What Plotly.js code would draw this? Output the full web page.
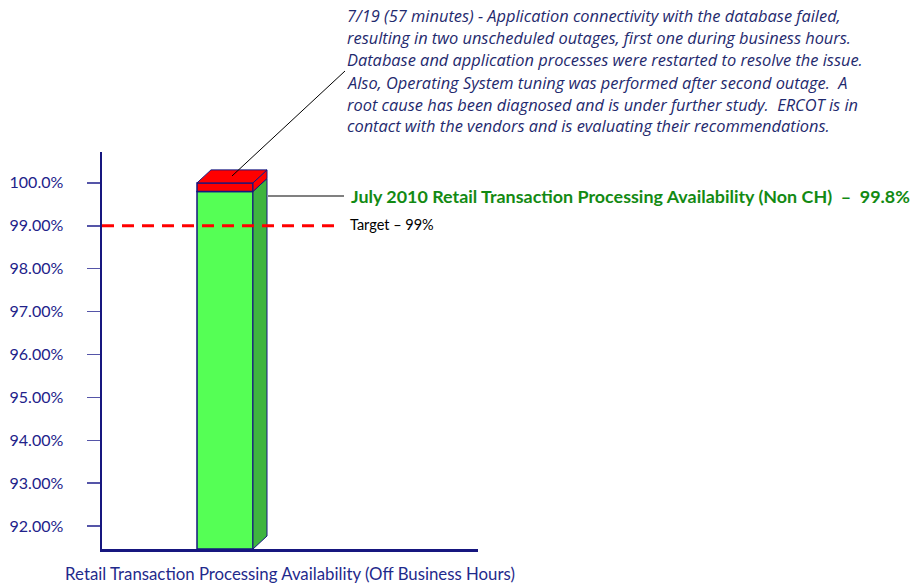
<!DOCTYPE html>
<html>
<head>
<meta charset="utf-8">
<script src="https://cdn.plot.ly/plotly-3.0.1.min.js"></script>
<style>html,body{margin:0;padding:0;background:#fff;}#chart{width:914px;height:584px;}</style>
</head>
<body>
<div id="chart"></div>
<script>
// ---- data ----
var categories = ["July 2010"];
var availability = [99.8];          // processing availability (%)
var outage = [0.2];                 // unavailable portion (%)
var target = [99];                  // target (%)
var tickValues = [92, 93, 94, 95, 96, 97, 98, 99, 100];
var tickLabels = ["92.00%", "93.00%", "94.00%", "95.00%", "96.00%", "97.00%", "98.00%", "99.00%", "100.0%"];
var noteLines = [
  "7/19 (57 minutes) - Application connectivity with the database failed,",
  "resulting in two unscheduled outages, first one during business hours.",
  "Database and application processes were restarted to resolve the issue.",
  "Also, Operating System tuning was performed after second outage.  A",
  "root cause has been diagnosed and is under further study.  ERCOT is in",
  "contact with the vendors and is evaluating their recommendations."
];
var valueLabel = "July 2010 Retail Transaction Processing Availability (Non CH)  \u2013  99.8%";
var targetLabel = "Target \u2013 99%";
var xTitle = "Retail Transaction Processing Availability (Off Business Hours)";

(function () {
  var yMin = 91.465, yMax = 100.72;
  var xMin = -1.318, xMax = 2.711;
  var barW = 0.6, dx = 0.15, dy = 0.303;
  var navy = "#16167f";
  var fam = "Lato, 'Open Sans', sans-serif";

  var xc = 0;
  var x0 = xc - barW / 2, x1 = xc + barW / 2;
  var v = availability[0], vTop = availability[0] + outage[0];

  var traces = [];
  traces.push({type: "bar", x: [xc], y: [v - yMin], base: [yMin], width: barW,
    marker: {color: "#55ff55", line: {color: navy, width: 1.5}}, hoverinfo: "skip"});
  traces.push({type: "bar", x: [xc], y: [outage[0]], base: [v], width: barW,
    marker: {color: "#ff0000", line: {color: navy, width: 1.5}}, hoverinfo: "skip"});
  traces.push({type: "scatter", mode: "lines", fill: "toself", fillcolor: "#3fb43f",
    x: [x1, x1 + dx, x1 + dx, x1, x1], y: [yMin, yMin + dy, v + dy, v, yMin],
    line: {color: navy, width: 1}, hoverinfo: "skip"});
  traces.push({type: "scatter", mode: "lines", fill: "toself", fillcolor: "#ff0000",
    x: [x1, x1 + dx, x1 + dx, x1, x1], y: [v, v + dy, vTop + dy, vTop, v],
    line: {color: navy, width: 1}, hoverinfo: "skip"});
  traces.push({type: "scatter", mode: "lines", fill: "toself", fillcolor: "#ff0000",
    x: [x0, x0 + dx, x1 + dx, x1, x0], y: [vTop, vTop + dy, vTop + dy, vTop, vTop],
    line: {color: navy, width: 1}, hoverinfo: "skip"});
  traces.push({type: "scatter", mode: "lines", x: [xMin, 1.19], y: [target[0], target[0]],
    line: {color: "#ff0000", width: 3, dash: "12px,8px"}, hoverinfo: "skip", cliponaxis: false});

  function px2x(p) { return (p - 102) / 376; }
  function py2y(p) { return (549 - p) / 397; }

  var annotations = [];
  var lineY = [15, 37, 59, 82, 104, 125];
  noteLines.forEach(function (t, i) {
    annotations.push({xref: "paper", yref: "paper", x: px2x(345), y: py2y(lineY[i]),
      xanchor: "left", yanchor: "middle", showarrow: false, text: t,
      font: {family: "'Open Sans', sans-serif", size: 16.4, color: "#1f2a6e", style: "italic"}});
  });
  annotations.push({xref: "paper", yref: "paper", x: px2x(349), y: py2y(196),
    xanchor: "left", yanchor: "middle", showarrow: false, text: "<b>" + valueLabel + "</b>",
    font: {family: fam, size: 17.9, color: "#138a13"}});
  annotations.push({xref: "paper", yref: "paper", x: px2x(348), y: py2y(224),
    xanchor: "left", yanchor: "middle", showarrow: false, text: targetLabel,
    font: {family: fam, size: 14.5, color: "#000000"}});

  var shapes = [
    {type: "line", xref: "paper", yref: "paper", x0: px2x(232), y0: py2y(176), x1: px2x(345), y1: py2y(71),
     line: {color: "#000000", width: 1}},
    {type: "line", xref: "paper", yref: "paper", x0: px2x(268), y0: py2y(196), x1: px2x(344), y1: py2y(196),
     line: {color: "#808080", width: 2}}
  ];

  var layout = {
    width: 914, height: 584,
    margin: {l: 102, r: 436, t: 152, b: 35, pad: 0},
    paper_bgcolor: "#ffffff", plot_bgcolor: "#ffffff",
    showlegend: false, barmode: "overlay",
    font: {family: fam, color: navy},
    xaxis: {range: [xMin, xMax], showgrid: false, zeroline: false, showticklabels: false, ticks: "",
      showline: true, linecolor: navy, linewidth: 2.5,
      title: {text: xTitle, standoff: 19, font: {size: 16.8, color: "#1f2a8c"}}},
    yaxis: {range: [yMin, yMax], showgrid: false, zeroline: false,
      tickvals: tickValues, ticktext: tickLabels, ticks: "outside", ticklen: 13, tickwidth: 1.5,
      tickcolor: "#5555a8", ticklabelstandoff: 20,
      tickfont: {size: 16, color: "#22228a"},
      showline: true, linecolor: navy, linewidth: 2.5},
    annotations: annotations,
    shapes: shapes
  };

  Plotly.newPlot("chart", traces, layout, {staticPlot: true});
})();
</script>
</body>
</html>
